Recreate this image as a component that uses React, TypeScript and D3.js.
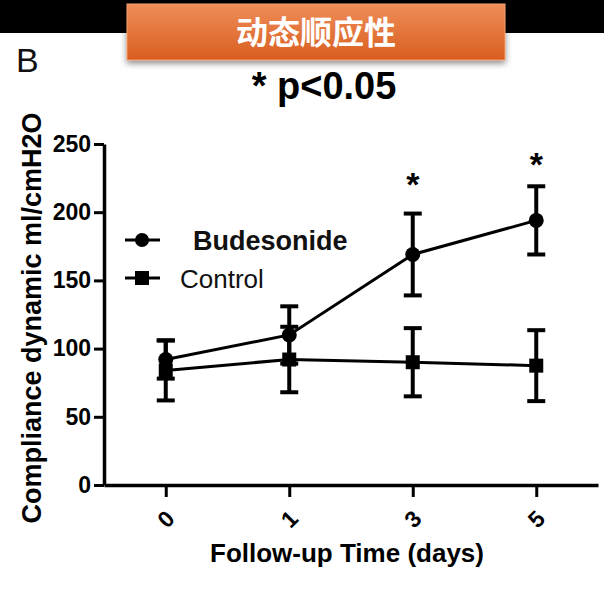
import { useEffect, useRef } from 'react';
import * as d3 from 'd3';

const days = ['0', '1', '3', '5'];
const budesonideMean = [92, 110, 169, 194];
const budesonideErr = [14, 21, 30, 25];
const controlMean = [84, 92, 90, 87.5];
const controlErr = [22, 24, 25, 26];
const starValues: (number | null)[] = [null, null, 225, 240];
const yTicks = [0, 50, 100, 150, 200, 250];

const FONT = '"Liberation Sans", Arial, sans-serif';

export default function App() {
  const svgRef = useRef<SVGSVGElement>(null);

  useEffect(() => {
    if (!svgRef.current) return;
    const W = 604;
    const H = 591;
    const svg = d3.select(svgRef.current).attr('width', W).attr('height', H);
    svg.selectAll('*').remove();

    // header: black band + orange banner
    const defs = svg.append('defs');
    const grad = defs.append('linearGradient').attr('id', 'bannerGrad').attr('x1', 0).attr('y1', 0).attr('x2', 0).attr('y2', 1);
    grad.append('stop').attr('offset', '0%').attr('stop-color', '#ef8d59');
    grad.append('stop').attr('offset', '100%').attr('stop-color', '#d85e1e');
    const shadow = defs.append('filter').attr('id', 'bannerShadow').attr('x', '-10%').attr('y', '-20%').attr('width', '120%').attr('height', '160%');
    shadow.append('feDropShadow').attr('dx', 0).attr('dy', 3).attr('stdDeviation', 3).attr('flood-color', '#000').attr('flood-opacity', 0.45);

    svg.append('rect').attr('x', 0).attr('y', 0).attr('width', W).attr('height', H).attr('fill', '#fff');
    svg.append('rect').attr('x', 0).attr('y', 0).attr('width', W).attr('height', 33).attr('fill', '#000');
    svg
      .append('rect')
      .attr('x', 127)
      .attr('y', 4)
      .attr('width', 378)
      .attr('height', 56)
      .attr('fill', 'url(#bannerGrad)')
      .attr('stroke', '#f4a070')
      .attr('stroke-width', 1)
      .attr('filter', 'url(#bannerShadow)');
    svg
      .append('text')
      .attr('x', 316)
      .attr('y', 44)
      .attr('text-anchor', 'middle')
      .attr('font-family', '"Noto Sans CJK SC", sans-serif')
      .attr('font-weight', 'bold')
      .attr('font-size', 32)
      .attr('fill', '#fff')
      .text('动态顺应性');

    svg
      .append('text')
      .attr('x', 16)
      .attr('y', 72)
      .attr('font-family', FONT)
      .attr('font-size', 34)
      .attr('fill', '#111')
      .text('B');

    svg
      .append('text')
      .attr('x', 324)
      .attr('y', 99)
      .attr('text-anchor', 'middle')
      .attr('font-family', FONT)
      .attr('font-weight', 'bold')
      .attr('font-size', 38)
      .attr('fill', '#000')
      .text('* p<0.05');

    // plot
    const x = d3.scalePoint<string>().domain(days).range([104, 598]).padding(0.5);
    const y = d3.scaleLinear().domain([0, 250]).range([485, 144]);

    const yAxis = svg
      .append('g')
      .attr('transform', 'translate(104,0)')
      .call(d3.axisLeft(y).tickValues(yTicks).tickSize(10).tickSizeOuter(0).tickPadding(3));
    yAxis.select('.domain').attr('stroke-width', 3.5);
    yAxis.selectAll('.tick line').attr('stroke-width', 3);
    yAxis
      .selectAll('.tick text')
      .attr('font-family', FONT)
      .attr('font-weight', 'bold')
      .attr('font-size', 23)
      .attr('fill', '#000');

    const xAxis = svg
      .append('g')
      .attr('transform', 'translate(0,485)')
      .call(d3.axisBottom(x).tickSize(12).tickSizeOuter(0).tickFormat(() => ''));
    xAxis.select('.domain').attr('stroke-width', 3.5);
    xAxis.selectAll('.tick line').attr('stroke-width', 3);

    svg
      .append('g')
      .selectAll('text')
      .data(days)
      .join('text')
      .attr('transform', (d) => `translate(${x(d)},519) rotate(-45)`)
      .attr('text-anchor', 'middle')
      .attr('dominant-baseline', 'central')
      .attr('font-family', FONT)
      .attr('font-weight', 'bold')
      .attr('font-size', 23)
      .attr('fill', '#000')
      .text((d) => d);

    svg
      .append('text')
      .attr('x', 347)
      .attr('y', 562)
      .attr('text-anchor', 'middle')
      .attr('font-family', FONT)
      .attr('font-weight', 'bold')
      .attr('font-size', 26)
      .attr('fill', '#000')
      .text('Follow-up Time (days)');

    svg
      .append('text')
      .attr('transform', 'translate(41,318) rotate(-90)')
      .attr('text-anchor', 'middle')
      .attr('font-family', FONT)
      .attr('font-weight', 'bold')
      .attr('font-size', 27)
      .attr('fill', '#000')
      .text('Compliance dynamic ml/cmH2O');

    const series = [
      { name: 'Control', mean: controlMean, err: controlErr, shape: 'square' },
      { name: 'Budesonide', mean: budesonideMean, err: budesonideErr, shape: 'circle' },
    ];

    const line = d3
      .line<number>()
      .x((_, i) => x(days[i]) ?? 0)
      .y((d) => y(d));

    series.forEach((s) => {
      const g = svg.append('g');
      g.append('path').attr('d', line(s.mean)).attr('fill', 'none').attr('stroke', '#000').attr('stroke-width', 3);
      s.mean.forEach((m, i) => {
        const cx = x(days[i]) ?? 0;
        const top = y(m + s.err[i]);
        const bot = y(m - s.err[i]);
        g.append('line').attr('x1', cx).attr('x2', cx).attr('y1', top).attr('y2', bot).attr('stroke', '#000').attr('stroke-width', 4);
        [top, bot].forEach((yy) =>
          g.append('line').attr('x1', cx - 9).attr('x2', cx + 9).attr('y1', yy).attr('y2', yy).attr('stroke', '#000').attr('stroke-width', 4)
        );
        if (s.shape === 'circle') {
          g.append('circle').attr('cx', cx).attr('cy', y(m)).attr('r', 7.5).attr('fill', '#000');
        } else {
          g.append('rect').attr('x', cx - 7).attr('y', y(m) - 7).attr('width', 14).attr('height', 14).attr('fill', '#000');
        }
      });
    });

    // significance stars
    svg
      .append('g')
      .selectAll('text')
      .data(starValues.map((v, i) => ({ v, d: days[i] })).filter((s) => s.v !== null))
      .join('text')
      .attr('x', (s) => x(s.d) ?? 0)
      .attr('y', (s) => y(s.v as number) + 18)
      .attr('text-anchor', 'middle')
      .attr('font-family', FONT)
      .attr('font-weight', 'bold')
      .attr('font-size', 34)
      .attr('fill', '#000')
      .text('*');

    // legend
    const legend = [
      { label: 'Budesonide', shape: 'circle', ly: 240, tx: 193, bold: true, size: 27 },
      { label: 'Control', shape: 'square', ly: 278, tx: 180, bold: false, size: 26 },
    ];
    legend.forEach((l) => {
      svg.append('line').attr('x1', 125).attr('x2', 160).attr('y1', l.ly).attr('y2', l.ly).attr('stroke', '#000').attr('stroke-width', 3);
      if (l.shape === 'circle') {
        svg.append('circle').attr('cx', 142).attr('cy', l.ly).attr('r', 7).attr('fill', '#000');
      } else {
        svg.append('rect').attr('x', 135).attr('y', l.ly - 7).attr('width', 14).attr('height', 14).attr('fill', '#000');
      }
      svg
        .append('text')
        .attr('x', l.tx)
        .attr('y', l.ly + 10)
        .attr('font-family', FONT)
        .attr('font-weight', l.bold ? 'bold' : 'normal')
        .attr('font-size', l.size)
        .attr('fill', '#111')
        .text(l.label);
    });
  }, []);

  return <svg ref={svgRef} style={{ position: 'absolute', left: 0, top: 0, display: 'block' }} />;
}
